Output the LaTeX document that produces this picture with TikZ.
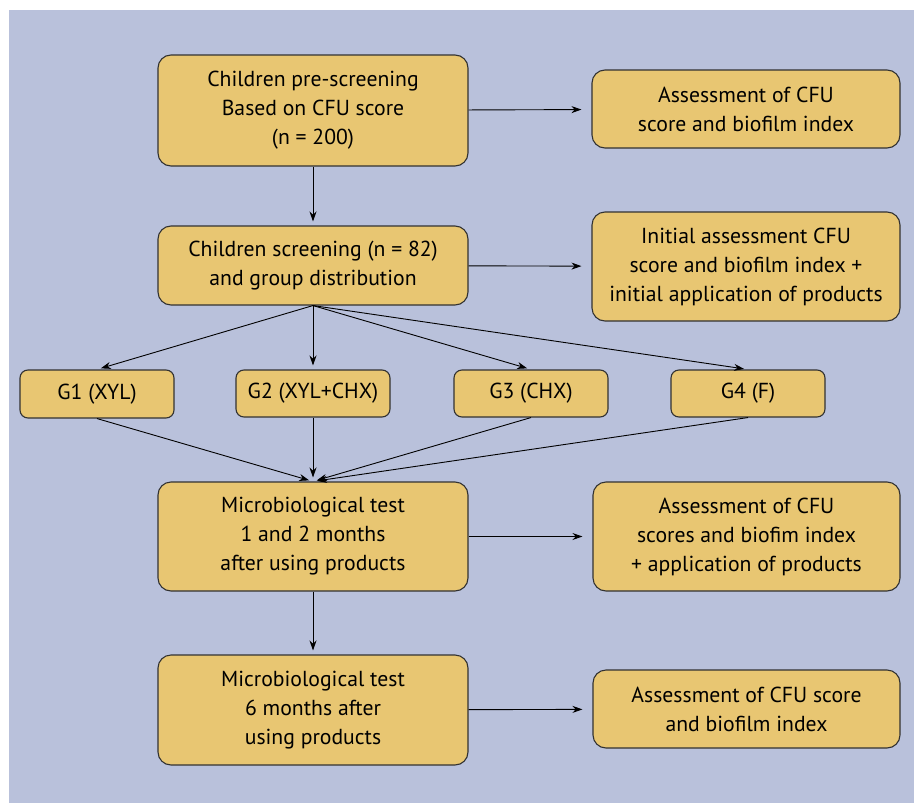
\documentclass[tikz,border=0pt]{standalone}
\usepackage{fontspec}
\setmainfont{PT Sans}
\usepackage{tikz}
\usetikzlibrary{positioning}
\usetikzlibrary{arrows.meta}
\definecolor{panelblue}{RGB}{185,193,219}
\definecolor{boxgold}{RGB}{232,198,114}
\definecolor{boxline}{RGB}{50,50,50}
\tikzset{x=1pt,y=-1pt, % One unit is one pixel of the page
every node/.style=
    { % Sets the font for each text
        font=\fontsize{21.7}{29}\selectfont
    },
stagebox/.style=
    { % Big boxes of the flow
        draw=boxline,
        line width=1.1pt,
        fill=boxgold,
        rounded corners=13pt,
        align=center,
        inner sep=0pt
    },
groupbox/.style=
    { % Small boxes of the groups
        stagebox,
        rounded corners=8pt
    },
    every edge/.style={ % Sets the properties for each connector
        draw,
        -{Stealth[length=10pt,width=7pt]},
        line width=0.9pt,
        shorten >=4pt
    },
    side/.style={shorten >=10pt} % Arrows to the right column
}

\begin{document}
\begin{tikzpicture}
\useasboundingbox[fill=white] (0,0) rectangle (918,803);
\fill[panelblue] (9,10) rectangle (914,803);

\node [stagebox,minimum width=310pt,minimum height=111pt] (pre)     at (313,110.5) {Children pre-screening\\Based on CFU score\\(n = 200)};
\node [stagebox,minimum width=308pt,minimum height=78pt]  (assessA) at (746,109)   {Assessment of CFU\\score and biofilm index};
\node [stagebox,minimum width=310pt,minimum height=79pt]  (screen)  at (313,265.5) {Children screening (n = 82)\\and group distribution};
\node [stagebox,minimum width=308pt,minimum height=109pt] (assessB) at (746,266.5) {Initial assessment CFU\\score and biofilm index +\\initial application of products};

\node [groupbox,minimum width=154pt,minimum height=48pt] (g1) at (97,394)    {G1 (XYL)};
\node [groupbox,minimum width=154pt,minimum height=47pt] (g2) at (313,393.5) {G2 (XYL+CHX)};
\node [groupbox,minimum width=154pt,minimum height=47pt] (g3) at (531,393.5) {G3 (CHX)};
\node [groupbox,minimum width=154pt,minimum height=47pt] (g4) at (748,393.5) {G4 (F)};

\node [stagebox,minimum width=310pt,minimum height=109pt] (micro1)  at (313,536.5)   {Microbiological test\\1 and 2 months\\after using products};
\node [stagebox,minimum width=307pt,minimum height=109pt] (assessC) at (746.5,536.5) {Assessment of CFU\\scores and biofim index\\+ application of products};
\node [stagebox,minimum width=310pt,minimum height=110pt] (micro2)  at (313,710)     {Microbiological test\\6 months after\\using products};
\node [stagebox,minimum width=307pt,minimum height=78pt]  (assessD) at (746.5,709)   {Assessment of CFU score\\and biofilm index};

\draw
    (pre) edge[side] (assessA)
    (pre) edge (screen)
    (screen) edge[side] (assessB)
    
    (screen.south) edge (g1.north)
    (screen.south) edge (g2.north)
    (screen.south) edge (g3.north)
    (screen.south) edge (g4.north)
    
    (g1.south) edge (micro1.north)
    (g2.south) edge (micro1.north)
    (g3.south) edge (micro1.north)
    (g4.south) edge (micro1.north)
    
    (micro1) edge[side] (assessC)
    (micro1) edge (micro2)
    (micro2) edge[side] (assessD);
\end{tikzpicture}
\end{document}
